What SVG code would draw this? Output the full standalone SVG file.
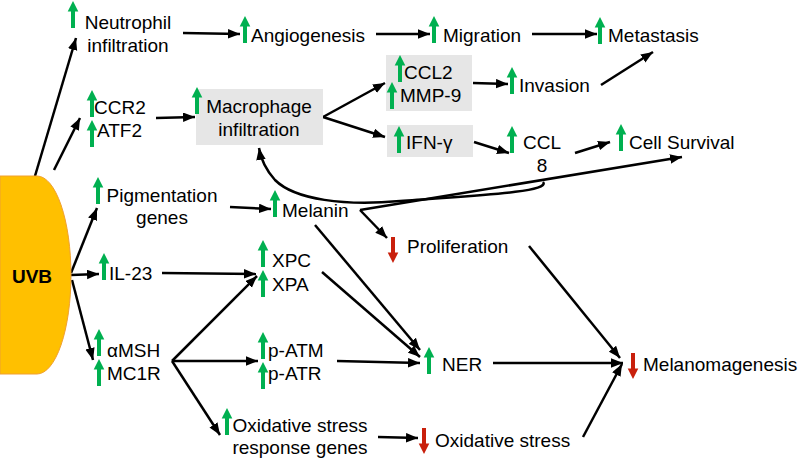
<svg xmlns="http://www.w3.org/2000/svg" xmlns:xlink="http://www.w3.org/1999/xlink" width="800" height="460" viewBox="0 0 800 460">
<style>
text{font-family:"Liberation Sans",Arial,sans-serif;font-size:19px;fill:#000}
.m{text-anchor:middle}
.c{fill:none;stroke:#000;stroke-width:2.5;marker-end:url(#ah)}
.box{fill:#E6E6E6}
.up{fill:#00B050}
.dn{fill:#C9200C}
</style>
<defs>
<marker id="ah" markerUnits="userSpaceOnUse" markerWidth="13" markerHeight="10" refX="12" refY="4.75" orient="auto" viewBox="0 0 13 10">
<path d="M0,0 L12,4.75 L0,9.5 Z" fill="#000"/>
</marker>
<path id="upA" class="up" d="M0,0 L5.3,10.5 L2,10.5 L2,27 L-2,27 L-2,10.5 L-5.3,10.5 Z"/>
<path id="dnA" class="dn" d="M0,26 L5.3,15.5 L2,15.5 L2,0 L-2,0 L-2,15.5 L-5.3,15.5 Z"/>
</defs>
<rect width="800" height="460" fill="#fff"/>

<g id="connectors">
<path class="c" d="M35,176 L76,38"/>
<path class="c" d="M54,170 L80,118"/>
<path class="c" d="M183,33 L240,34"/>
<path class="c" d="M376,34 L430,34"/>
<path class="c" d="M532,34 L597,34"/>
<path class="c" d="M156,118 L195,117"/>
<path class="c" d="M323,117 L385,83"/>
<path class="c" d="M323,117 L385,137"/>
<path class="c" d="M473,83 L508,84"/>
<path class="c" d="M601,85 L653,52"/>
<path class="c" d="M474,142 L509,153"/>
<path class="c" d="M575,153 L610,142"/>
<path class="c" d="M360,210 L682,157"/>
<path class="c" d="M543,182 C552,193 460,196 400,201 C345,206 295,200 275,180 C266,170 261,160 259,148"/>
<path class="c" d="M360,210 L387,238"/>
<path class="c" d="M71,273 L97,208"/>
<path class="c" d="M71,275 L99,274"/>
<path class="c" d="M72,280 L93,360"/>
<path class="c" d="M230,207 L271,209"/>
<path class="c" d="M162,273 L256,274"/>
<path class="c" d="M172,361 L257,276"/>
<path class="c" d="M172,361 L258,361"/>
<path class="c" d="M172,361 L220,435"/>
<path class="c" d="M315,225 L420,350"/>
<path class="c" d="M322,272 L420,357"/>
<path class="c" d="M337,361 L420,363"/>
<path class="c" d="M493,363 L623,363"/>
<path class="c" d="M529,246 L620,358"/>
<path class="c" d="M378,437 L418,438"/>
<path class="c" d="M583,437 L622,364"/>
</g>

<g id="uvb">
<path d="M0,176 L37,176 A34,99 0 0 1 37,374 L0,374 Z" fill="#FFC000" stroke="#F0A030" stroke-width="1"/>
<text x="32" y="283" class="m" style="font-weight:bold">UVB</text>
</g>

<g id="neutrophil">
<use xlink:href="#upA" x="73" y="1"/>
<text x="128" y="29" class="m">Neutrophil</text>
<text x="128" y="52" class="m">infiltration</text>
</g>

<g id="angiogenesis">
<use xlink:href="#upA" x="245" y="16"/>
<text x="251" y="42">Angiogenesis</text>
</g>

<g id="migration">
<use xlink:href="#upA" x="434" y="16"/>
<text x="443" y="42">Migration</text>
</g>

<g id="metastasis">
<use xlink:href="#upA" x="600" y="17"/>
<text x="608" y="42">Metastasis</text>
</g>

<g id="ccr2-atf2">
<use xlink:href="#upA" x="92" y="90"/>
<use xlink:href="#upA" x="92" y="120"/>
<text x="94" y="114">CCR2</text>
<text x="97" y="137">ATF2</text>
</g>

<g id="macrophage">
<rect class="box" x="196" y="89" width="127" height="56"/>
<use xlink:href="#upA" x="197" y="87"/>
<text x="259" y="113" class="m">Macrophage</text>
<text x="259" y="136" class="m">infiltration</text>
</g>

<g id="ccl2-mmp9">
<rect class="box" x="386" y="55" width="86" height="56"/>
<use xlink:href="#upA" x="400" y="55"/>
<use xlink:href="#upA" x="392" y="82"/>
<text x="404" y="79">CCL2</text>
<text x="400" y="102">MMP-9</text>
</g>

<g id="invasion">
<use xlink:href="#upA" x="512" y="67"/>
<text x="519" y="92">Invasion</text>
</g>

<g id="ifng">
<rect class="box" x="387" y="125" width="86" height="32"/>
<use xlink:href="#upA" x="399" y="126"/>
<text x="406" y="149">IFN-γ</text>
</g>

<g id="ccl8">
<use xlink:href="#upA" x="512" y="126"/>
<text x="542" y="149" class="m">CCL</text>
<text x="542" y="172" class="m">8</text>
</g>

<g id="cell-survival">
<use xlink:href="#upA" x="621" y="124"/>
<text x="629" y="149">Cell Survival</text>
</g>

<g id="pigmentation">
<use xlink:href="#upA" x="98" y="177"/>
<text x="162" y="202" class="m">Pigmentation</text>
<text x="162" y="224" class="m">genes</text>
</g>

<g id="melanin">
<use xlink:href="#upA" x="275" y="190"/>
<text x="282" y="217">Melanin</text>
</g>

<g id="proliferation">
<use xlink:href="#dnA" x="393" y="237"/>
<text x="407" y="253">Proliferation</text>
</g>

<g id="il23">
<use xlink:href="#upA" x="104" y="253"/>
<text x="109" y="280">IL-23</text>
</g>

<g id="xpc-xpa">
<use xlink:href="#upA" x="263" y="240"/>
<use xlink:href="#upA" x="263" y="270"/>
<text x="272" y="267">XPC</text>
<text x="272" y="291">XPA</text>
</g>

<g id="amsh-mc1r">
<use xlink:href="#upA" x="99" y="329"/>
<use xlink:href="#upA" x="99" y="359"/>
<text x="107" y="357">αMSH</text>
<text x="107" y="380">MC1R</text>
</g>

<g id="patm-patr">
<use xlink:href="#upA" x="263" y="332"/>
<use xlink:href="#upA" x="263" y="362"/>
<text x="268" y="357">p-ATM</text>
<text x="268" y="380">p-ATR</text>
</g>

<g id="ner">
<use xlink:href="#upA" x="429" y="347"/>
<text x="442" y="371">NER</text>
</g>

<g id="melanomagenesis">
<use xlink:href="#dnA" x="633" y="353"/>
<text x="643" y="371">Melanomagenesis</text>
</g>

<g id="ox-response">
<use xlink:href="#upA" x="227" y="408"/>
<text x="300" y="432" class="m">Oxidative stress</text>
<text x="300" y="454" class="m">response genes</text>
</g>

<g id="ox-stress">
<use xlink:href="#dnA" x="424" y="428"/>
<text x="435" y="447">Oxidative stress</text>
</g>
</svg>
